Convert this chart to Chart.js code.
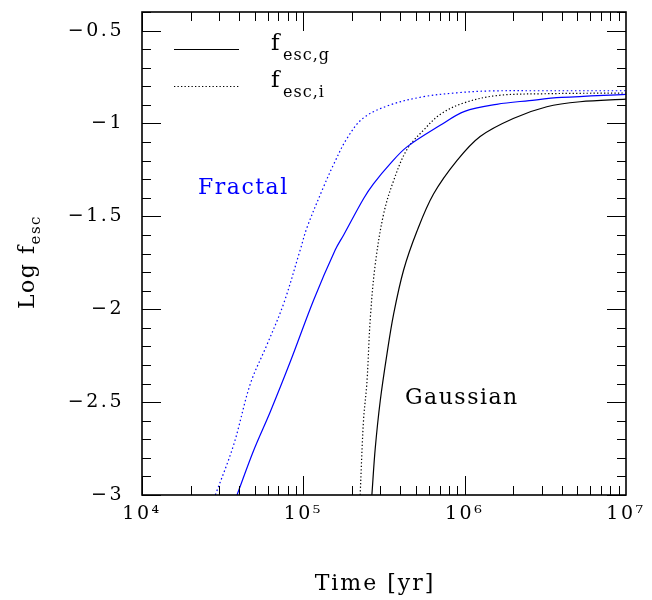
<!DOCTYPE html>
<html><head><meta charset="utf-8">
<script src="https://cdn.jsdelivr.net/npm/chart.js@4"></script>
<style>html,body{margin:0;padding:0;background:#fff}canvas{display:block}</style>
</head><body>
<canvas id="c" width="652" height="600"></canvas>
<script>
// Fractal, f_esc,i (blue dotted)
const fractalTimeI = [2.85e4, 3.70e4, 4.70e4, 5.96e4, 7.55e4, 9.57e4, 1.054e5, 1.337e5, 1.542e5, 1.866e5, 2.36e5, 3.46e5, 5.56e5, 8.95e5, 1.44e6, 3.0e6, 1.0e7];
const fractalLogI  = [-3.0, -2.73, -2.40, -2.19, -1.97, -1.68, -1.56, -1.34, -1.22, -1.08, -0.97, -0.90, -0.856, -0.835, -0.825, -0.824, -0.824];
// Fractal, f_esc,g (blue solid)
const fractalTimeG = [3.88e4, 4.92e4, 6.25e4, 8.32e4, 1.159e5, 1.578e5, 1.778e5, 2.36e5, 2.72e5, 3.46e5, 4.39e5, 7.05e5, 1.0e6, 1.58e6, 2.51e6, 3.98e6, 1.0e7];
const fractalLogG  = [-3.0, -2.76, -2.55, -2.28, -1.95, -1.68, -1.60, -1.405, -1.325, -1.216, -1.126, -1.01, -0.935, -0.897, -0.877, -0.86, -0.843];
// Gaussian, f_esc,i (black dotted)
const gaussTimeI = [2.25e5, 2.36e5, 2.48e5, 2.60e5, 2.79e5, 3.14e5, 3.62e5, 4.39e5, 5.56e5, 7.08e5, 9.84e5, 1.58e6, 3.16e6, 1.0e7];
const gaussLogI  = [-3.0, -2.60, -2.39, -2.05, -1.76, -1.49, -1.31, -1.14, -1.036, -0.95, -0.89, -0.85, -0.84, -0.836];
// Gaussian, f_esc,g (black solid)
const gaussTimeG = [2.66e5, 2.79e5, 3.0e5, 3.30e5, 3.62e5, 4.18e5, 5.06e5, 6.41e5, 8.95e5, 1.247e6, 2.0e6, 3.23e6, 5.19e6, 1.0e7];
const gaussLogG  = [-3.0, -2.75, -2.49, -2.24, -2.03, -1.79, -1.58, -1.38, -1.20, -1.07, -0.973, -0.91, -0.883, -0.869];

const xMajorTicks = [1e4, 1e5, 1e6, 1e7];
const xTickLabels = ['10\u2074', '10\u2075', '10\u2076', '10\u2077'];
const yMajorTicks = [-3, -2.5, -2, -1.5, -1, -0.5];
const yTickLabels = ['\u22123', '\u22122.5', '\u22122', '\u22121.5', '\u22121', '\u22120.5'];
const yMinorStep = 0.1;
const xTitle = 'Time [yr]';

const FONT = 'DejaVu Serif';
const BLUE = '#0000ff';

function pts(xs, ys) { return xs.map((x, i) => ({x: x, y: ys[i]})); }

const tickPlugin = {
  id: 'frameTicks',
  beforeDraw(chart) { chart.ctx.letterSpacing = '2.5px'; },
  afterDraw(chart) {
    const ctx = chart.ctx, a = chart.chartArea;
    const xs = chart.scales.x, ys = chart.scales.y;
    ctx.save();
    ctx.letterSpacing = '0px';
    ctx.strokeStyle = '#000';
    ctx.lineWidth = 1;
    for (let e = 4; e < 7; e++) {
      for (let k = 1; k <= 9; k++) {
        const v = k * Math.pow(10, e);
        const px = Math.round(xs.getPixelForValue(v)) + 0.5;
        const len = k === 1 ? 19 : 9;
        ctx.beginPath();
        ctx.moveTo(px, a.bottom); ctx.lineTo(px, a.bottom - len);
        ctx.moveTo(px, a.top); ctx.lineTo(px, a.top + len);
        ctx.stroke();
      }
    }
    for (let i = 0; i <= 26; i++) {
      const v = -3 + i * yMinorStep;
      const py = Math.round(ys.getPixelForValue(v)) + 0.5;
      const len = (i % 5 === 0) ? 19 : 9;
      ctx.beginPath();
      ctx.moveTo(a.left, py); ctx.lineTo(a.left + len, py);
      ctx.moveTo(a.right, py); ctx.lineTo(a.right - len, py);
      ctx.stroke();
    }
    ctx.lineWidth = 1.6;
    ctx.strokeRect(a.left, a.top, a.right - a.left, a.bottom - a.top);

    // legend
    ctx.lineWidth = 1.1;
    ctx.beginPath(); ctx.moveTo(174, 49.5); ctx.lineTo(239, 49.5); ctx.stroke();
    ctx.setLineDash([1.3, 2.2]);
    ctx.beginPath(); ctx.moveTo(174, 86.5); ctx.lineTo(239, 86.5); ctx.stroke();
    ctx.setLineDash([]);
    ctx.fillStyle = '#000';
    ctx.textBaseline = 'alphabetic';
    ctx.textAlign = 'left';
    ctx.letterSpacing = '1px';
    ctx.font = '23px "' + FONT + '"';
    ctx.fillText('f', 271, 50);
    ctx.fillText('f', 271, 87);
    ctx.font = '16px "' + FONT + '"';
    ctx.fillText('esc,g', 283, 60);
    ctx.fillText('esc,i', 283, 97);

    // annotations
    ctx.letterSpacing = '1.5px';
    ctx.font = '22px "' + FONT + '"';
    ctx.fillStyle = BLUE;
    ctx.fillText('Fractal', 198, 194);
    ctx.fillStyle = '#000';
    ctx.fillText('Gaussian', 405, 404);

    // x-axis title
    ctx.letterSpacing = '2px';
    ctx.textAlign = 'center';
    ctx.fillText(xTitle, 375, 590);
    ctx.textAlign = 'left';

    // y-axis title
    ctx.save();
    ctx.translate(34, 262);
    ctx.rotate(-Math.PI / 2);
    ctx.letterSpacing = '1.5px';
    ctx.font = '22px "' + FONT + '"';
    const main = 'Log f';
    const wMain = ctx.measureText(main).width;
    ctx.font = '15px "' + FONT + '"';
    const wSub = ctx.measureText('esc').width;
    const x0 = -(wMain + wSub) / 2;
    ctx.font = '22px "' + FONT + '"';
    ctx.fillText(main, x0, 0);
    ctx.font = '15px "' + FONT + '"';
    ctx.fillText('esc', x0 + wMain, 6);
    ctx.restore();

    ctx.restore();
  }
};

new Chart(document.getElementById('c'), {
  type: 'scatter',
  data: {
    datasets: [
      {label: 'Fractal f_esc,i', data: pts(fractalTimeI, fractalLogI), showLine: true, borderColor: BLUE, borderWidth: 1.2, borderDash: [1.5, 2.6], pointRadius: 0, tension: 0.35},
      {label: 'Fractal f_esc,g', data: pts(fractalTimeG, fractalLogG), showLine: true, borderColor: BLUE, borderWidth: 1.2, pointRadius: 0, tension: 0.35},
      {label: 'Gaussian f_esc,i', data: pts(gaussTimeI, gaussLogI), showLine: true, borderColor: '#000', borderWidth: 1.2, borderDash: [1.3, 2.2], pointRadius: 0, tension: 0.35},
      {label: 'Gaussian f_esc,g', data: pts(gaussTimeG, gaussLogG), showLine: true, borderColor: '#000', borderWidth: 1.2, pointRadius: 0, tension: 0.35}
    ]
  },
  options: {
    responsive: false,
    animation: false,
    devicePixelRatio: 1,
    layout: {padding: {left: 0, right: 26, top: 12, bottom: 0}},
    plugins: {legend: {display: false}, tooltip: {enabled: false}},
    scales: {
      x: {
        type: 'logarithmic', min: 1e4, max: 1e7,
        afterFit(s) { s.height = 105; s.paddingLeft = 0; s.paddingRight = 0; },
        afterBuildTicks(s) { s.ticks = xMajorTicks.map(v => ({value: v})); },
        ticks: {callback: (v, i) => xTickLabels[i], font: {family: FONT, size: 19}, color: '#000', padding: 8, maxRotation: 0, autoSkip: false},
        grid: {display: false, drawTicks: false},
        border: {display: false},
        title: {display: false}
      },
      y: {
        type: 'linear', min: -3, max: -0.4,
        afterFit(s) { s.width = 142; s.paddingTop = 0; s.paddingBottom = 0; },
        afterBuildTicks(s) { s.ticks = yMajorTicks.map(v => ({value: v})); },
        ticks: {callback: (v, i) => yTickLabels[i], font: {family: FONT, size: 19}, color: '#000', padding: 18, autoSkip: false},
        grid: {display: false, drawTicks: false},
        border: {display: false}
      }
    }
  },
  plugins: [tickPlugin]
});
</script>
</body></html>
